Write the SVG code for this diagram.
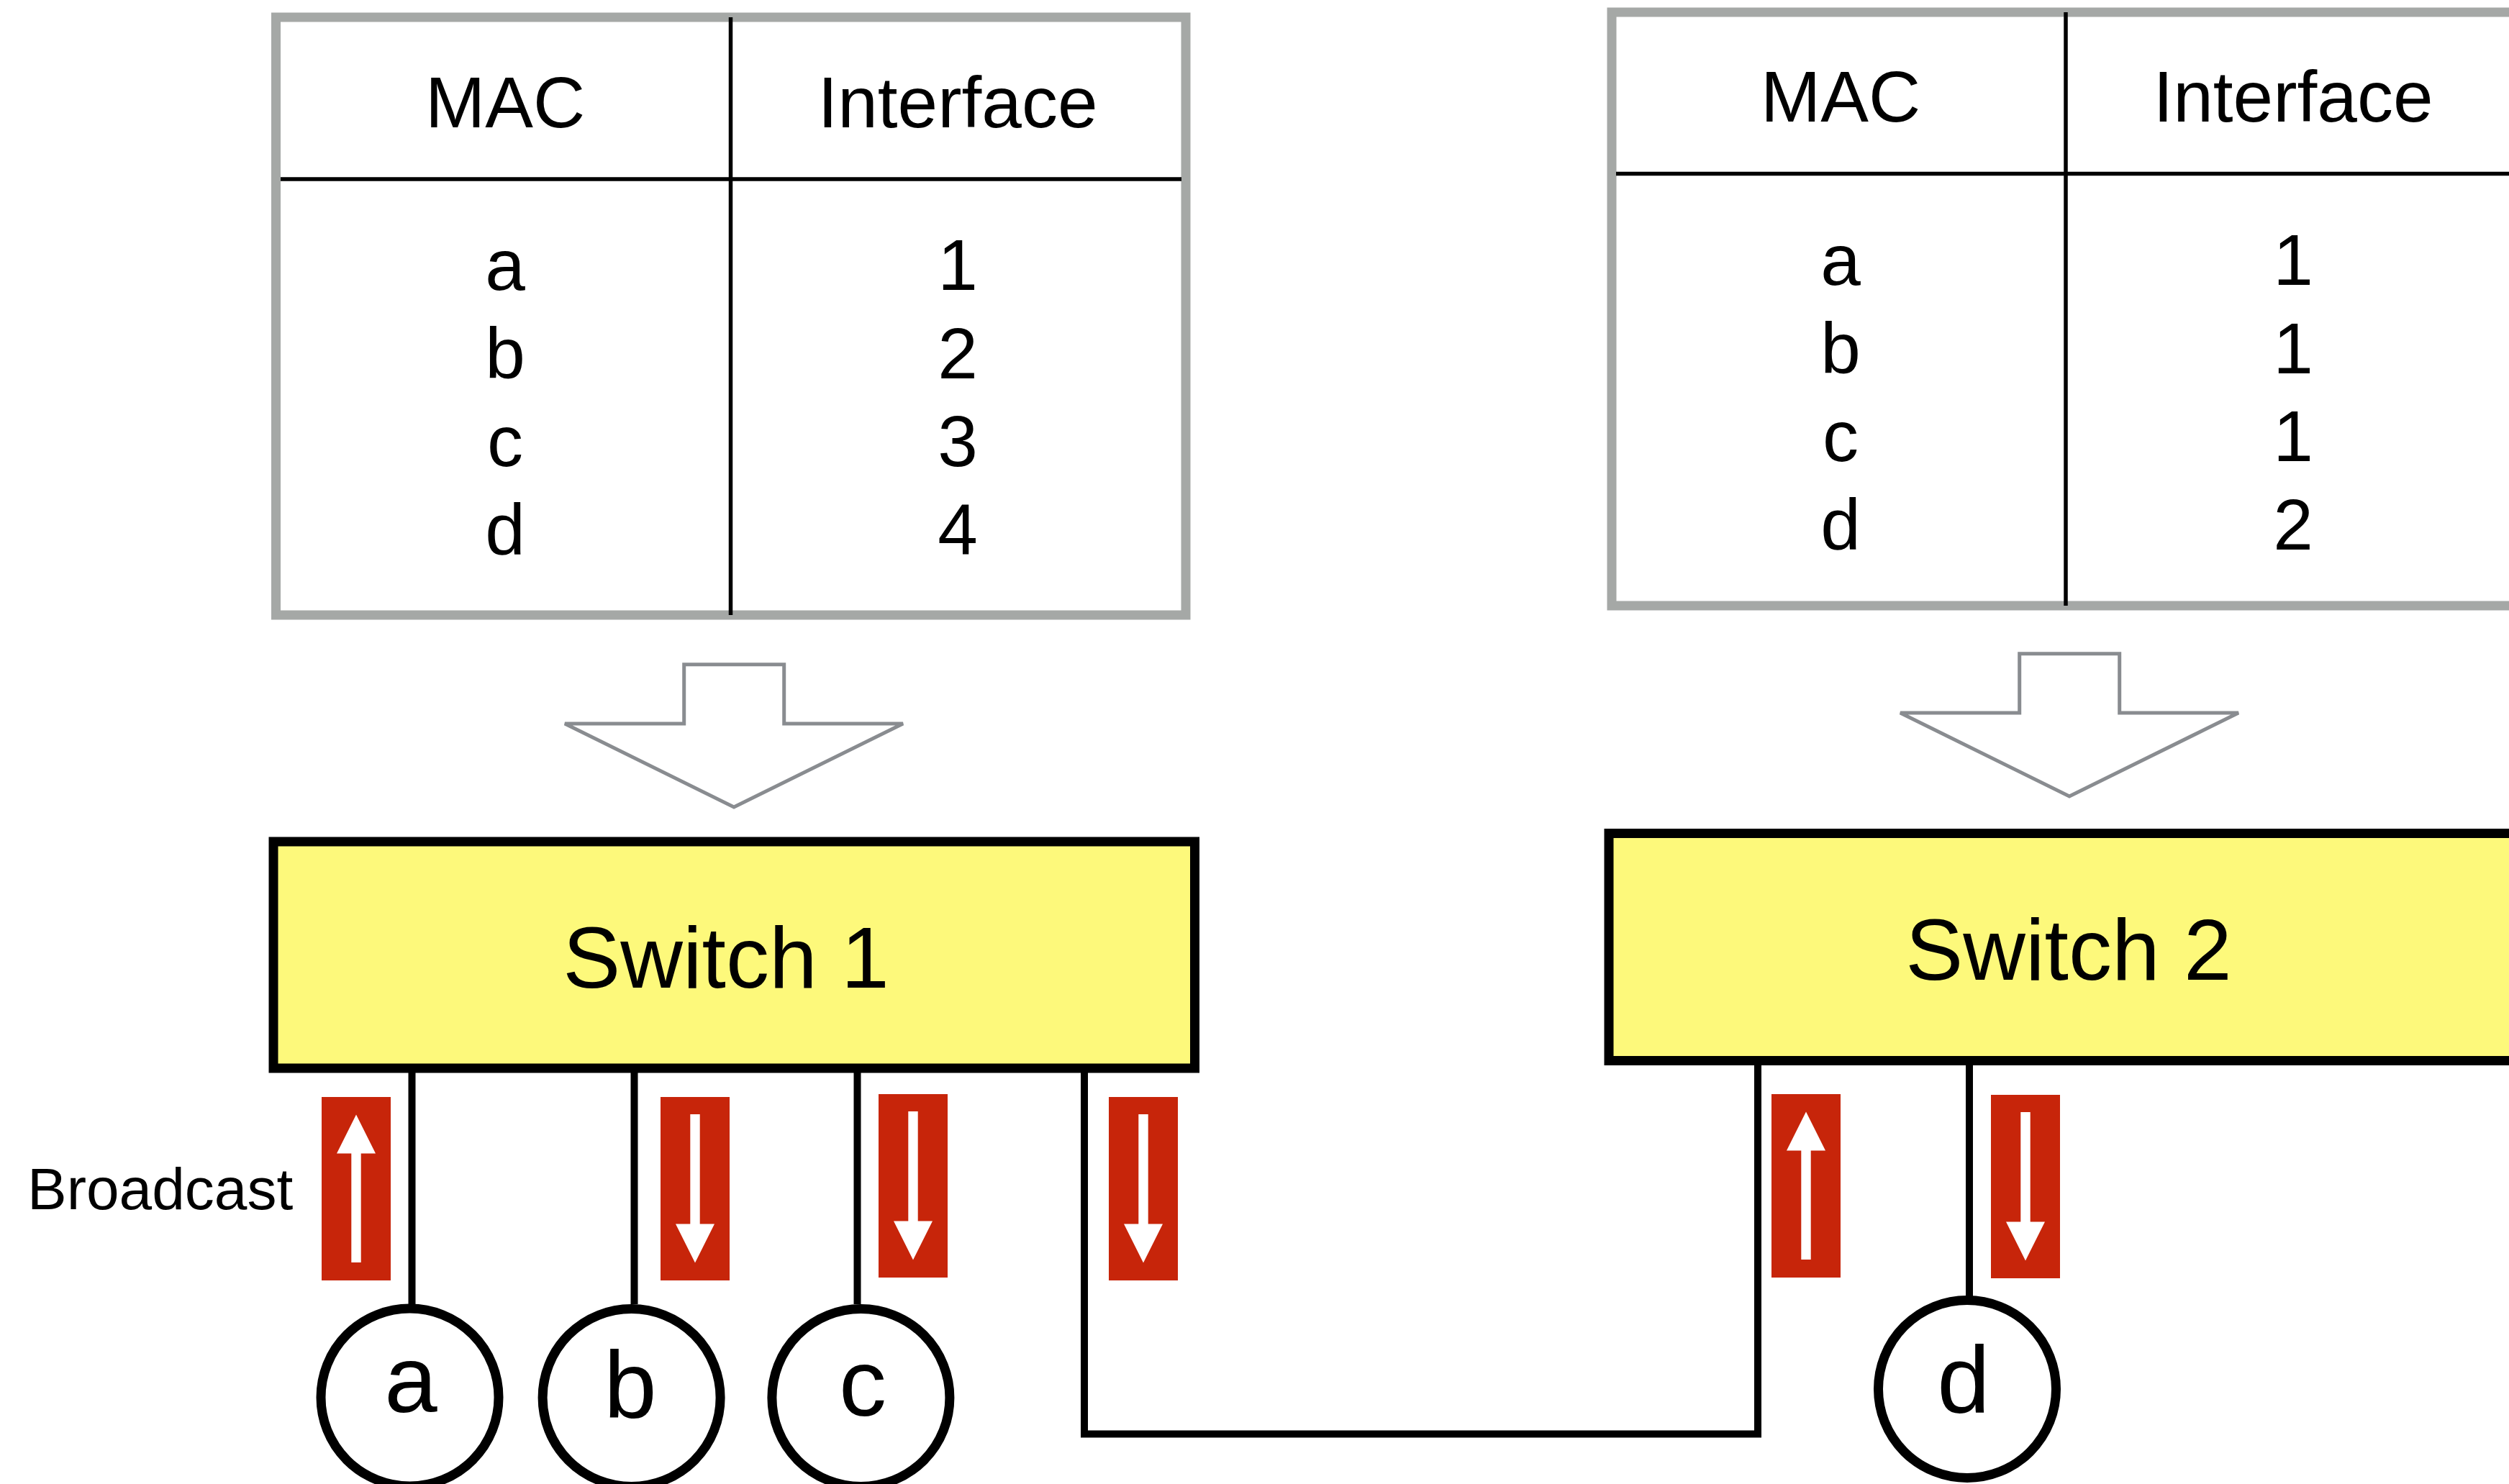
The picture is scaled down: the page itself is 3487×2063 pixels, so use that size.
<svg xmlns="http://www.w3.org/2000/svg" xmlns:xlink="http://www.w3.org/1999/xlink" width="3487" height="2063" viewBox="0 0 3487 2063">
<style>
text{font-family:"Liberation Sans",Arial,Helvetica,sans-serif;fill:#000;text-anchor:middle}
.tbl{fill:#fff;stroke:#a5a8a6;stroke-width:13}
.grid{stroke:#000;stroke-width:5.5;fill:none}
.cell{font-size:100px}
.hollow{fill:#fff;stroke:#898c90;stroke-width:5;stroke-linejoin:miter}
.sw{fill:#fdf97b;stroke:#000;stroke-width:13}
.swt{font-size:120px}
.wire{fill:none;stroke:#000;stroke-width:10;stroke-linejoin:miter;stroke-linecap:butt}
.host{fill:#fff;stroke:#000;stroke-width:13}
.hostt{font-size:132px}
.red{fill:#c7250a}
.wh{fill:#fff}
</style>
<defs>
<g id="redUp">
<rect class="red" x="0" y="0" width="96" height="255"/>
<polygon class="wh" points="48,24.5 21,78.5 75,78.5"/>
<rect class="wh" x="41.3" y="78" width="13.4" height="152"/>
</g>
<g id="redDown">
<rect class="red" x="0" y="0" width="96" height="255"/>
<rect class="wh" x="41.3" y="24" width="13.4" height="153"/>
<polygon class="wh" points="21,176.5 75,176.5 48,230.5"/>
</g>
</defs>
<rect width="3487" height="2063" fill="#fff"/>

<g id="connectors">
<path class="wire" d="M572.5 1485 V1813"/>
<path class="wire" d="M881.5 1485 V1813"/>
<path class="wire" d="M1191.5 1485 V1813"/>
<path class="wire" d="M1507 1485 V1993.5 H2443 V1474"/>
<path class="wire" d="M2737 1474 V1802"/>
</g>

<g id="table1">
<rect class="tbl" x="383.5" y="24" width="1264.5" height="831"/>
<line class="grid" x1="390" y1="249" x2="1642" y2="249"/>
<line class="grid" x1="1015.5" y1="24" x2="1015.5" y2="855"/>
<text class="cell" x="702" y="177">MAC</text>
<text class="cell" x="1331" y="177">Interface</text>
<text class="cell" x="702" y="403">a</text>
<text class="cell" x="702" y="526">b</text>
<text class="cell" x="702" y="648">c</text>
<text class="cell" x="702" y="771">d</text>
<text class="cell" x="1331" y="403">1</text>
<text class="cell" x="1331" y="526">2</text>
<text class="cell" x="1331" y="648">3</text>
<text class="cell" x="1331" y="771">4</text>
</g>

<g id="table2">
<rect class="tbl" x="2240" y="17" width="1264.5" height="825"/>
<line class="grid" x1="2246" y1="241.5" x2="3490" y2="241.5"/>
<line class="grid" x1="2871" y1="17" x2="2871" y2="842"/>
<text class="cell" x="2558" y="169">MAC</text>
<text class="cell" x="3187" y="169">Interface</text>
<text class="cell" x="2558" y="396">a</text>
<text class="cell" x="2558" y="519">b</text>
<text class="cell" x="2558" y="641">c</text>
<text class="cell" x="2558" y="764">d</text>
<text class="cell" x="3187" y="396">1</text>
<text class="cell" x="3187" y="519">1</text>
<text class="cell" x="3187" y="641">1</text>
<text class="cell" x="3187" y="764">2</text>
</g>

<g id="arrow1">
<polygon class="hollow" points="950.7,923.7 1089.7,923.7 1089.7,1006 1255,1006 1020,1122 785,1006 950.7,1006"/>
</g>
<g id="arrow2">
<polygon class="hollow" points="2806.7,908.7 2945.7,908.7 2945.7,991 3111,991 2876,1107 2641,991 2806.7,991"/>
</g>

<g id="switch1">
<rect class="sw" x="380" y="1170" width="1280.5" height="315"/>
<text class="swt" x="1009" y="1373">Switch 1</text>
</g>
<g id="switch2">
<rect class="sw" x="2236" y="1158.5" width="1290" height="316"/>
<text class="swt" x="2875" y="1362">Switch 2</text>
</g>

<g id="broadcast-label">
<text x="38" y="1681" style="font-size:82px;text-anchor:start">Broadcast</text>
</g>

<g id="indicators">
<use xlink:href="#redUp" x="447" y="1525"/>
<use xlink:href="#redDown" x="918" y="1525"/>
<use xlink:href="#redDown" x="1221" y="1521"/>
<use xlink:href="#redDown" x="1541" y="1525"/>
<use xlink:href="#redUp" x="2462" y="1521"/>
<use xlink:href="#redDown" x="2767" y="1522"/>
</g>

<g id="host-a">
<circle class="host" cx="569.5" cy="1942.5" r="123.5"/>
<text class="hostt" x="571" y="1963">a</text>
</g>
<g id="host-b">
<circle class="host" cx="877.6" cy="1943" r="123.5"/>
<text class="hostt" x="876" y="1971">b</text>
</g>
<g id="host-c">
<circle class="host" cx="1196.4" cy="1943" r="123.5"/>
<text class="hostt" x="1199" y="1968">c</text>
</g>
<g id="host-d">
<circle class="host" cx="2734" cy="1931" r="123.5"/>
<text class="hostt" x="2729" y="1964">d</text>
</g>
</svg>
